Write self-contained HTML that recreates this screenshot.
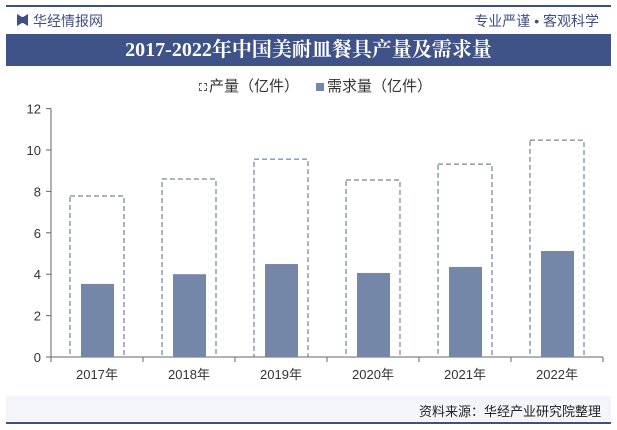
<!DOCTYPE html>
<html><head><meta charset="utf-8"><style>
body{margin:0;width:617px;height:430px;background:#fff;font-family:"Liberation Sans","Noto Sans CJK SC",sans-serif;overflow:hidden;position:relative}
.abs{position:absolute}
</style></head><body>
<div class="abs" style="left:6px;top:5px;width:605px;height:2px;background:#3d4f85"></div>
<div class="abs" style="left:17px;top:14px;width:11px;height:12px;background:#3d4f85;clip-path:polygon(0 0,45% 25%,55% 25%,100% 0,100% 100%,55% 75%,45% 75%,0 100%)"></div>
<div class="abs" style="left:33px;top:11px;font-size:14px;color:#3d4f85">华经情报网</div>
<div class="abs" style="right:18px;top:11px;font-size:14px;color:#3d4f85">专业严谨 • 客观科学</div>
<div class="abs" style="left:6px;top:34px;width:605px;height:32px;background:#3f5389;color:#fff;font-family:'Liberation Serif','Noto Serif CJK SC',serif;font-weight:bold;font-size:20px;line-height:32px;text-align:center">2017-2022年中国美耐皿餐具产量及需求量</div>
<div class="abs" style="left:199px;top:75px;font-size:15px;color:#333"><span style="display:inline-block;width:6px;height:6px;border:1px dashed #556;margin-right:2px;vertical-align:middle"></span>产量（亿件）</div>
<div class="abs" style="left:316px;top:75px;font-size:15px;color:#333"><span style="display:inline-block;width:8px;height:8px;background:#7587a8;margin-right:3px;vertical-align:middle"></span>需求量（亿件）</div>
<svg class="abs" style="left:0;top:0" width="617" height="430" id="chart"></svg>
<div class="abs" style="left:6px;top:396px;width:605px;height:25px;background:#f3f5fa"></div>
<div class="abs" style="left:6px;top:422px;width:605px;height:2px;background:#3d4f85"></div>
<div class="abs" style="right:16px;top:401px;font-size:13px;color:#222">资料来源：华经产业研究院整理</div>
<script>
const categories=["2017年","2018年","2019年","2020年","2021年","2022年"];
const production=[7.78,8.6,9.56,8.55,9.32,10.48];
const demand=[3.53,4.0,4.49,4.06,4.35,5.12];
const yTicks=[0,2,4,6,8,10,12];
const NS="http://www.w3.org/2000/svg";
const svg=document.getElementById("chart");
const x0=51,slot=92,yBase=357,pxU=20.7;
const y=v=>yBase-v*pxU;
const xc=i=>x0+slot*(i+0.5);
function mk(t,a){const e=document.createElementNS(NS,t);for(const k in a)e.setAttribute(k,a[k]);svg.appendChild(e);return e;}
const ax=mk("line",{x1:x0,x2:x0,y1:y(12),y2:yBase,stroke:"#666"});


const bx=mk("line",{x1:x0,x2:x0+slot*6,y1:yBase,y2:yBase,stroke:"#666"});


yTicks.forEach(t=>{
  const l=mk("line",{x1:x0-5,x2:x0,y1:y(t),y2:y(t),stroke:"#666"});
  
  
  const tx=mk("text",{x:x0-10,y:y(t)+5,"text-anchor":"end","font-size":13,fill:"#333"});
  tx.textContent=t;
  
  
});
for(let i=0;i<=6;i++){
  const l=mk("line",{x1:x0+slot*i,x2:x0+slot*i,y1:yBase,y2:yBase+5,stroke:"#666"});
  
  
}
categories.forEach((c,i)=>{
  const p=mk("rect",{x:xc(i)-27,y:y(production[i]),width:54,height:production[i]*pxU,fill:"none",stroke:"#5a6a8a","stroke-dasharray":"5,3"});
  
  
  const d=mk("rect",{x:xc(i)-16,y:y(demand[i]),width:33,height:demand[i]*pxU,fill:"#7587a8"});
  
  
  const tx=mk("text",{x:xc(i),y:yBase+22,"text-anchor":"middle","font-size":13,fill:"#333"});
  tx.textContent=c;
  
  
});
</script>
</body></html>
